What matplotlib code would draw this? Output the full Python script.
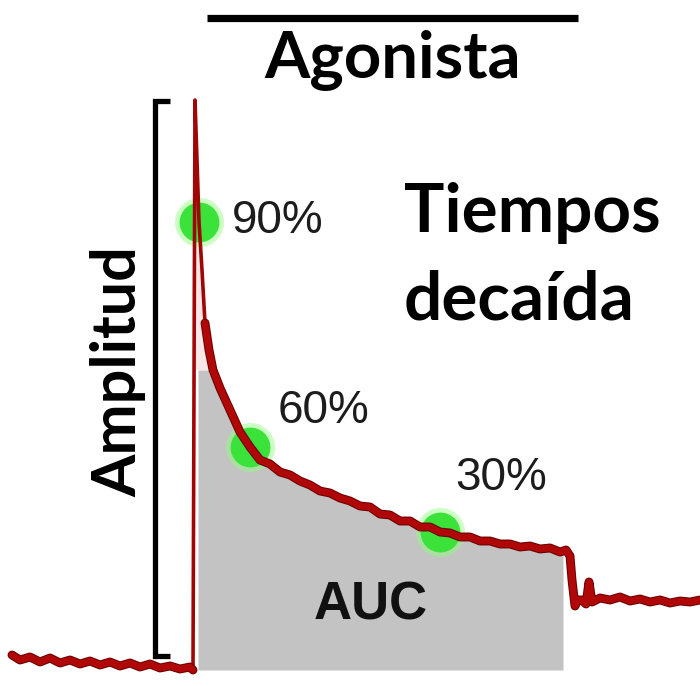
import matplotlib
matplotlib.use("Agg")
import numpy as np
import matplotlib.pyplot as plt
import matplotlib.patheffects as pe
from matplotlib import font_manager

# Calcium trace (ratio above baseline) sampled along time (s)
time_s = [-36.6, -35, -33, -31, -29, -27, -25, -23, -21, -19, -17, -15, -13, -11, -9, -7, -5, -3, -1, -0.4,
          0.0,
          0.4, 0.8, 1.4, 2.0, 2.8, 3.6, 5.0, 7.0, 9.0,
          11, 13, 15, 17, 19, 21, 23, 25, 27, 29, 31, 33, 35, 37, 39, 41, 43, 45, 47, 49,
          51, 53, 55, 57, 59, 61, 63, 65, 67, 69, 71, 73,
          74.2, 75, 75.4, 76, 76.6, 77.4, 78.2, 78.8, 79.4,
          81, 83, 85, 87, 89, 91, 93, 95, 97, 99, 101]
ratio = [0.065, 0.04, 0.055, 0.03, 0.05, 0.025, 0.04, 0.02, 0.035, 0.015, 0.03, 0.01, 0.025, 0.005, 0.02, 0.0, 0.01, -0.005, 0.005, -0.01,
         2.84,
         2.54, 2.23, 1.99, 1.725, 1.59, 1.49, 1.40, 1.29, 1.18,
         1.105, 1.04, 1.02, 0.98, 0.965, 0.935, 0.915, 0.885, 0.875, 0.85, 0.835, 0.81, 0.805, 0.77, 0.765, 0.735, 0.735, 0.705, 0.705, 0.68,
         0.675, 0.655, 0.655, 0.635, 0.635, 0.62, 0.62, 0.605, 0.61, 0.595, 0.60, 0.58,
         0.59, 0.56, 0.44, 0.31, 0.34, 0.34, 0.32, 0.43, 0.33,
         0.35, 0.34, 0.355, 0.335, 0.345, 0.33, 0.34, 0.325, 0.335, 0.33, 0.34]

# Decay-time markers
decay_labels = ['90%', '60%', '30%']
decay_t = [0.8, 11.0, 49.0]
decay_v = [2.23, 1.105, 0.68]

# Agonist application and integration window
agonist_on, agonist_off = 2.4, 76.6
auc_start, auc_end = 0.6, 73.6
auc_top = 1.49
amp_low, amp_high = 0.06, 2.835

t = np.array(time_s)
v = np.array(ratio)

names = {f.name for f in font_manager.fontManager.ttflist}
narrow = 'Liberation Sans Narrow' if 'Liberation Sans Narrow' in names else 'Liberation Sans'

fig = plt.figure(figsize=(7, 6.86), dpi=100)
ax = fig.add_axes([0, 0, 1, 1])
ax.set_xlim(-39, 101)
ax.set_ylim(-0.09, 3.34)
ax.set_axis_off()

# AUC shading under the decay
mask = (t > auc_start) & (t < auc_end)
ft = np.concatenate([[auc_start], t[mask], [auc_end]])
fv = np.concatenate([[np.interp(auc_start, t, v)], v[mask], [np.interp(auc_end, t, v)]])
ax.fill_between(ft, -0.01, np.minimum(fv, auc_top), color='#c3c3c3', lw=0, zorder=1)

# pale wedge between rise and fast decay
peak = int(np.argmax(v))
rise_t = np.interp(auc_top, v[peak - 1:peak + 1], t[peak - 1:peak + 1])
fast = (t >= 0) & (v >= auc_top)
ax.fill(np.concatenate([[rise_t], t[fast]]), np.concatenate([[auc_top], v[fast]]),
        color='#f9e6e6', lw=0, zorder=1)

# green markers with a soft halo
ax.scatter(decay_t, decay_v, s=1250, color='#8dff7a', alpha=0.45, lw=0, zorder=2)
ax.scatter(decay_t, decay_v, s=820, color='#3be23a', lw=0, zorder=2)

# trace: thin over the fast transient, thick and noisy elsewhere
edge = [pe.Stroke(linewidth=6.4, foreground='#700000'), pe.Normal()]
ax.plot(t, v, color='#a00606', lw=2.6, zorder=3, solid_joinstyle='round')
pre = t <= -0.4
post = t >= 2.0
ax.plot(t[pre], v[pre], color='#b00808', lw=4.8, zorder=3, path_effects=edge,
        solid_capstyle='round')
ax.plot(t[post], v[post], color='#b00808', lw=4.8, zorder=3, path_effects=edge,
        solid_capstyle='round')

# amplitude bracket
ax.plot([-5.0, -8.1, -8.1, -5.0], [amp_high, amp_high, amp_low, amp_low],
        color='black', lw=3.8, solid_joinstyle='miter', solid_capstyle='butt', zorder=3)
ax.text(-15.4, 1.48, 'Amplitud', rotation=90, ha='center', va='center',
        family='Lato', weight='bold', fontsize=44)

# agonist bar
ax.plot([agonist_on, agonist_off], [3.2525, 3.2525], color='black', lw=5.2,
        solid_capstyle='butt')
ax.text((agonist_on + agonist_off) / 2, 2.95, 'Agonista', ha='center', va='baseline',
        family='Lato', weight='bold', fontsize=47)

ax.text(41.8, 2.18, 'Tiempos', ha='left', va='baseline',
        family='Lato', weight='bold', fontsize=48.5)
ax.text(41.8, 1.74, 'decaída', ha='left', va='baseline',
        family='Lato', weight='bold', fontsize=48.5)

label_pos = [(7.4, 2.175), (16.6, 1.225), (52.0, 0.89)]
for lab, (x, y) in zip(decay_labels, label_pos):
    ax.text(x, y, lab, ha='left', va='baseline', family='Liberation Sans',
            fontsize=33, color='#1c1c1c', zorder=4)

ax.text(23.8, 0.24, 'AUC', ha='left', va='baseline', family=narrow, weight='bold',
        fontsize=38, color='#111111', zorder=4)

fig.savefig('out.png', dpi=100, facecolor='white')
